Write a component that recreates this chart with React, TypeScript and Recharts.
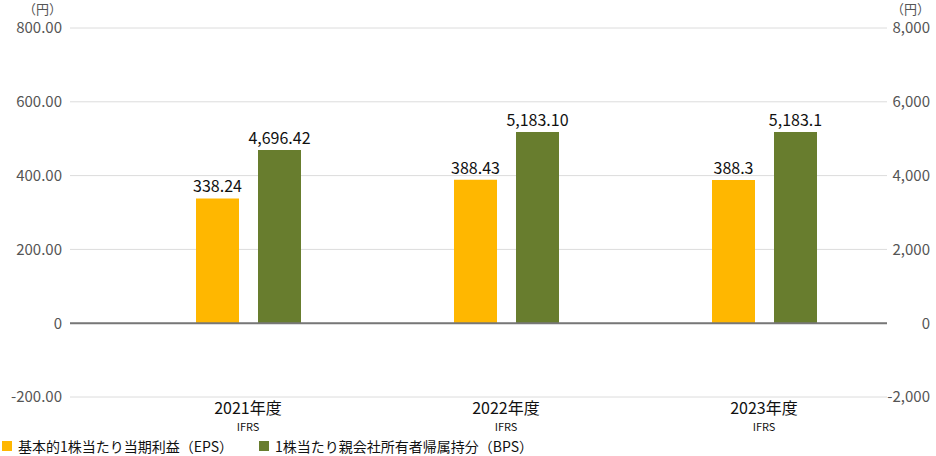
import { BarChart, Bar, XAxis, YAxis, CartesianGrid, ReferenceLine, LabelList, Legend } from 'recharts';

// 年度
const years = ['2021年度', '2022年度', '2023年度'];
const standards = ['IFRS', 'IFRS', 'IFRS'];

// 基本的1株当たり当期利益（EPS）
const epsValues = [338.24, 388.43, 388.3];
const epsLabels = ['338.24', '388.43', '388.3'];

// 1株当たり親会社所有者帰属持分（BPS）
const bpsValues = [4696.42, 5183.1, 5183.1];
const bpsLabels = ['4,696.42', '5,183.10', '5,183.1'];

const leftTicks = [-200, 0, 200, 400, 600, 800];
const rightTicks = [-2000, 0, 2000, 4000, 6000, 8000];

const EPS_COLOR = '#FFB700';
const BPS_COLOR = '#687D2E';
const FONT = '"Noto Sans CJK JP", "Noto Sans", sans-serif';

const data = years.map((year, i) => ({
  year,
  standard: standards[i],
  eps: epsValues[i],
  epsLabel: epsLabels[i],
  bps: bpsValues[i],
  bpsLabel: bpsLabels[i],
}));

const formatLeft = (v: number) => (v === 0 ? '0' : v.toFixed(2));
const formatRight = (v: number) => v.toLocaleString('en-US');

const YearTick = (props: any) => {
  const { x, y, payload, index } = props;
  return (
    <g>
      <text x={x} y={y} dy={17} textAnchor="middle" fontSize={16} fill="#111" fontFamily={FONT}>
        {payload.value}
      </text>
      <text x={x} y={y} dy={34} textAnchor="middle" fontSize={11} fill="#111" fontFamily={FONT}>
        {standards[index]}
      </text>
    </g>
  );
};

const RightTick = (props: any) => {
  const { x, y, payload } = props;
  return (
    <text x={x} y={y} dy="0.36em" textAnchor="end" fontSize={15} fill="#555" fontFamily={FONT}>
      {formatRight(payload.value)}
    </text>
  );
};

const unitLabel = (side: 'left' | 'right') => (props: any) => {
  const { viewBox } = props;
  const x = side === 'left' ? viewBox.x + viewBox.width - 8 : viewBox.x + viewBox.width - 6;
  return (
    <text x={x} y={viewBox.y - 14} textAnchor="end" fontSize={13} fill="#555" fontFamily={FONT}>
      （円）
    </text>
  );
};

const legendItems = [
  { label: '基本的1株当たり当期利益（EPS）', color: EPS_COLOR },
  { label: '1株当たり親会社所有者帰属持分（BPS）', color: BPS_COLOR },
];

const LegendContent = () => (
  <div style={{ display: 'flex', alignItems: 'center', height: 20, fontFamily: FONT, fontSize: 14, color: '#111' }}>
    {legendItems.map((item) => (
      <div key={item.label} style={{ display: 'flex', alignItems: 'center', marginRight: 26 }}>
        <span style={{ display: 'inline-block', width: 10, height: 10, background: item.color, marginRight: 6 }} />
        <span>{item.label}</span>
      </div>
    ))}
  </div>
);

export default function App() {
  return (
    <div style={{ position: 'absolute', left: 0, top: 0, width: 936, height: 456, background: '#fff' }}>
      <BarChart
        width={936}
        height={456}
        data={data}
        margin={{ top: 28, right: 0, bottom: 0, left: 0 }}
        barSize={43}
        barGap={19}
      >
        <CartesianGrid yAxisId="left" vertical={false} stroke="#dcdcdc" strokeWidth={1} />
        <XAxis
          dataKey="year"
          axisLine={false}
          tickLine={false}
          tickSize={0}
          tickMargin={0}
          height={39}
          padding={{ left: 49, right: -6 }}
          tick={<YearTick />}
          interval={0}
        />
        <YAxis
          yAxisId="left"
          orientation="left"
          width={70}
          domain={[-200, 800]}
          ticks={leftTicks}
          tickFormatter={formatLeft}
          axisLine={false}
          tickLine={false}
          tickSize={0}
          tickMargin={8}
          tick={{ fontSize: 15, fill: '#555', fontFamily: FONT }}
          label={{ content: unitLabel('left') }}
        />
        <YAxis
          yAxisId="right"
          orientation="right"
          width={49}
          domain={[-2000, 8000]}
          ticks={rightTicks}
          axisLine={false}
          tickLine={false}
          tickSize={0}
          tickMargin={43}
          tick={<RightTick />}
          label={{ content: unitLabel('right') }}
        />
        <ReferenceLine yAxisId="left" y={0} stroke="#777" strokeWidth={2} />
        <Bar yAxisId="left" dataKey="eps" fill={EPS_COLOR} isAnimationActive={false}>
          <LabelList dataKey="epsLabel" position="top" offset={6} fontSize={16} fill="#111" fontFamily={FONT} />
        </Bar>
        <Bar yAxisId="right" dataKey="bps" fill={BPS_COLOR} isAnimationActive={false}>
          <LabelList dataKey="bpsLabel" position="top" offset={6} fontSize={16} fill="#111" fontFamily={FONT} />
        </Bar>
        <Legend
          verticalAlign="bottom"
          align="left"
          content={<LegendContent />}
          wrapperStyle={{ left: 2, bottom: 0, height: 20 }}
        />
      </BarChart>
    </div>
  );
}
